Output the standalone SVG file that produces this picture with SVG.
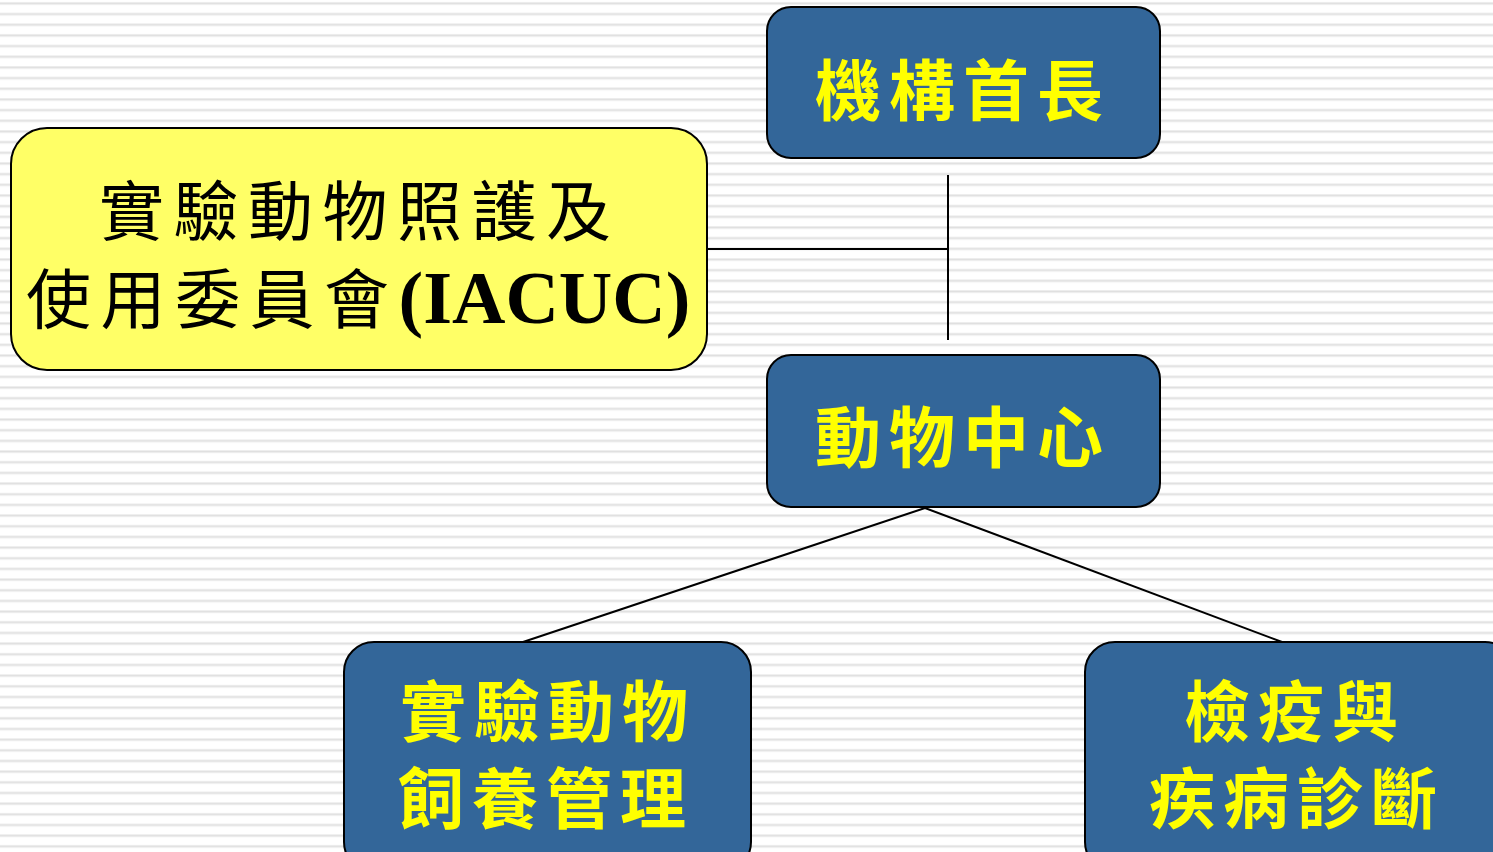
<svg xmlns="http://www.w3.org/2000/svg" width="1493" height="852" viewBox="0 0 1493 852">
<style>
.box{fill:#336699;stroke:#000;stroke-width:2}
.ybox{fill:#ffff66;stroke:#000;stroke-width:2}
.yt{font-family:"Noto Sans CJK TC","Noto Sans CJK SC",sans-serif;font-weight:700;font-size:66px;fill:#ffff00;letter-spacing:8px}
.bt{font-family:"Noto Sans CJK TC","Noto Sans CJK SC",sans-serif;font-weight:400;font-size:65px;fill:#000;letter-spacing:9.5px}
.lt{font-family:"Liberation Serif","Times New Roman",serif;font-weight:700;font-size:74px;letter-spacing:0}
.conn{stroke:#000;stroke-width:2;fill:none}
</style>
<defs>
<pattern id="stripes" x="0" y="0" width="20" height="10.67" patternUnits="userSpaceOnUse">
<rect x="0" y="0" width="20" height="10.67" fill="#ffffff"/>
<rect x="0" y="2" width="20" height="1" fill="#ececec"/>
<rect x="0" y="3" width="20" height="1" fill="#dedede"/>
<rect x="0" y="4" width="20" height="1" fill="#ececec"/>
</pattern>
</defs>
<rect width="1493" height="852" fill="url(#stripes)"/>
<g id="connectors">
<line class="conn" x1="948" y1="175" x2="948" y2="340"/>
<line class="conn" x1="707" y1="249" x2="948" y2="249"/>
<line class="conn" x1="925" y1="508" x2="523" y2="642"/>
<line class="conn" x1="925" y1="508" x2="1282" y2="642"/>
</g>
<g id="head">
<rect class="box" x="767" y="7" width="393" height="151" rx="24"/>
<text class="yt" x="815" y="115">機構首長</text>
</g>
<g id="iacuc">
<rect class="ybox" x="11" y="128" width="696" height="242" rx="36"/>
<text class="bt" x="99" y="235">實驗動物照護及</text>
<text class="bt" x="26" y="323">使用委員會<tspan class="lt">(IACUC)</tspan></text>
</g>
<g id="center">
<rect class="box" x="767" y="355" width="393" height="152" rx="24"/>
<text class="yt" x="815" y="462">動物中心</text>
</g>
<g id="husbandry">
<rect class="box" x="344" y="642" width="407" height="230" rx="30"/>
<text class="yt" x="400" y="736">實驗動物</text>
<text class="yt" x="398" y="823">飼養管理</text>
</g>
<g id="quarantine">
<rect class="box" x="1085" y="642" width="430" height="230" rx="30"/>
<text class="yt" x="1184" y="736">檢疫與</text>
<text class="yt" x="1149" y="823">疾病診斷</text>
</g>
</svg>
